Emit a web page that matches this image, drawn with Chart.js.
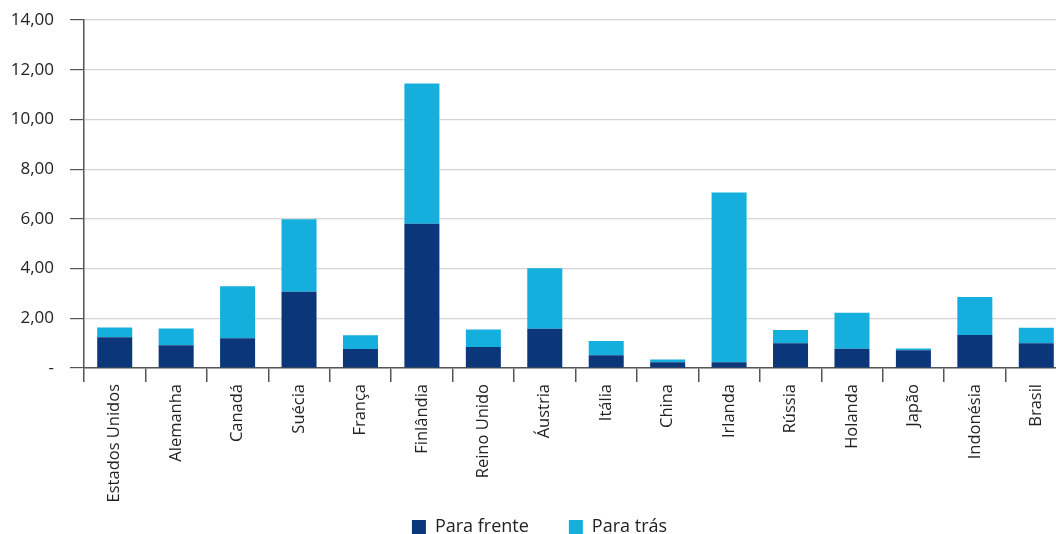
<!DOCTYPE html>
<html>
<head>
<meta charset="utf-8">
<script src="https://cdn.jsdelivr.net/npm/chart.js@4"></script>
<style>
  html, body { margin: 0; padding: 0; background: #fff; overflow: hidden; }
  #wrap { width: 1068px; height: 534px; }
</style>
</head>
<body>
<div id="wrap"><canvas id="barChart"></canvas></div>
<script>
var paises = ["Estados Unidos", "Alemanha", "Canadá", "Suécia", "França", "Finlândia", "Reino Unido", "Áustria",
    "Itália", "China", "Irlanda", "Rússia", "Holanda", "Japão", "Indonésia", "Brasil"];
var paraFrente = [1.24, 0.92, 1.20, 3.07, 0.76, 5.80, 0.84, 1.58, 0.51, 0.23, 0.23, 1.00, 0.77, 0.71, 1.33, 1.00];
var paraTras = [0.39, 0.67, 2.09, 2.91, 0.56, 5.65, 0.71, 2.43, 0.58, 0.11, 6.83, 0.53, 1.45, 0.07, 1.53, 0.62];

var fonte = "'Open Sans', sans-serif";
var eixo = "#555555";

// legenda fica por cima da area dos rotulos do eixo x
var moverLegenda = {
    id: 'moverLegenda',
    afterLayout: function (chart) {
        var lg = chart.legend;
        lg.top = 478;
        lg.bottom = 534;
        lg.height = 56;
        lg.left += 6;
        lg.right += 6;
    }
};

var config = {
    type: 'bar',
    data: {
        labels: paises,
        datasets: [
            { label: "Para frente", data: paraFrente, backgroundColor: "#0b3679" },
            { label: "Para trás", data: paraTras, backgroundColor: "#14afdd" }
        ]
    },
    options: {
        responsive: true,
        maintainAspectRatio: false,
        animation: false,
        datasets: {
            bar: { categoryPercentage: 1, barPercentage: 0.57 }
        },
        layout: { padding: { top: 20, right: 1, left: 0, bottom: 0 } },
        plugins: {
            legend: {
                position: 'bottom',
                maxHeight: 30,
                labels: {
                    boxWidth: 14,
                    boxHeight: 14,
                    padding: 40,
                    color: "#222",
                    font: { family: fonte, size: 18 }
                }
            },
            tooltip: { enabled: false },
            title: { display: false }
        },
        scales: {
            x: {
                stacked: true,
                grid: { drawOnChartArea: false, tickLength: 14, tickColor: eixo, lineWidth: 1.5 },
                border: { color: eixo, width: 1.5 },
                afterFit: function (scale) { scale.height = 136; },
                ticks: {
                    minRotation: 90, maxRotation: 90, padding: 2,
                    color: "#222",
                    font: { family: fonte, size: 16.5 }
                }
            },
            y: {
                stacked: true,
                min: 0,
                max: 14,
                grid: { color: "#d4d4d4", lineWidth: 1.2, tickLength: 14, tickColor: eixo },
                border: { color: eixo, width: 1.5 },
                afterFit: function (scale) { scale.width = 84; scale.paddingTop = 0; },
                ticks: {
                    stepSize: 2,
                    padding: 16,
                    color: "#222",
                    font: { family: fonte, size: 17 },
                    callback: function (v) {
                        if (v === 0) return "-";
                        return v.toFixed(2).replace(".", ",");
                    }
                }
            }
        }
    },
    plugins: [moverLegenda]
};

var ctx = document.getElementById("barChart").getContext("2d");
var grafico = new Chart(ctx, config);
</script>
</body>
</html>
